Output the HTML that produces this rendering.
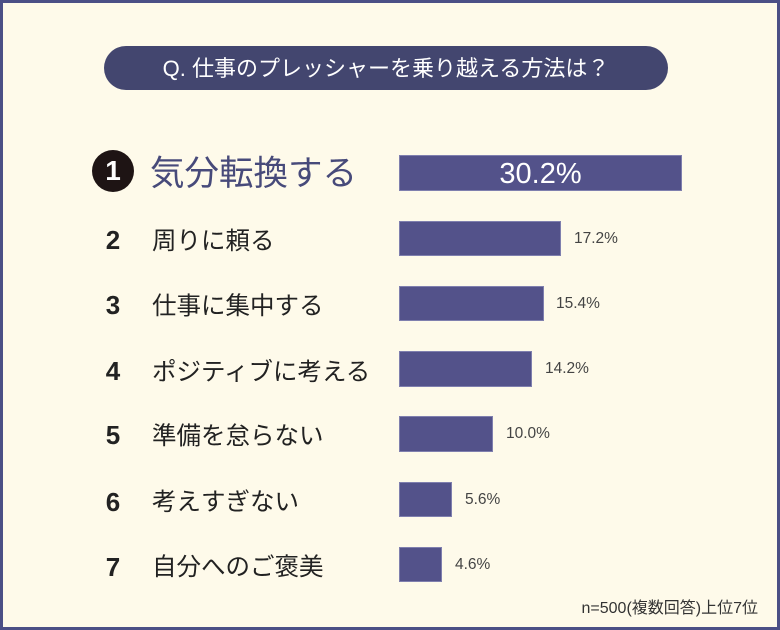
<!DOCTYPE html>
<html><head><meta charset="utf-8"><style>
body{margin:0;width:780px;height:630px;overflow:hidden;background:#fefaea;font-family:"Liberation Sans","Noto Sans CJK JP",sans-serif}
.frame{position:absolute;left:0;top:0;width:774px;height:624px;border:3px solid #4b4f86;background:#fefaea}
.pill{position:absolute;left:104px;top:46px;width:564px;height:44px;border-radius:22px;background:#43466f;color:#fff;font-size:22px;line-height:46px;text-align:center}
.bar{position:absolute;left:399px;background:#53528a;border:1px solid #7f7fae;box-sizing:border-box}
.num{position:absolute;left:100px;width:26px;text-align:center;font-size:26px;font-weight:bold;color:#222;line-height:36px;height:36px}
.lab{position:absolute;left:152px;font-size:24.5px;color:#222;line-height:36px;height:36px;white-space:nowrap}
.pct{position:absolute;font-size:15.5px;color:#444;line-height:36px}
</style></head><body>
<div class="frame"></div>
<div class="pill">Q. 仕事のプレッシャーを乗り越える方法は？</div>
<div style="position:absolute;left:92px;top:150px;width:42px;height:42px;border-radius:50%;background:#1e1414;color:#fff;font-size:28px;font-weight:bold;text-align:center;line-height:42px">1</div>
<div style="position:absolute;left:150px;top:153px;font-size:34.5px;color:#474a7a;line-height:42px;white-space:nowrap">気分転換する</div>
<div class="bar" style="top:155px;width:283px;height:36px"></div>
<div style="position:absolute;left:399px;width:283px;top:156px;line-height:36px;text-align:center;color:#fff;font-size:29px">30.2%</div>

<div class="bar" style="top:221px;width:162px;height:35px"></div><div class="pct" style="left:574px;top:221px">17.2%</div>
<div class="num" style="top:222px">2</div><div class="lab" style="top:224px">周りに頼る</div>
<div class="bar" style="top:286px;width:145px;height:35px"></div><div class="pct" style="left:556px;top:286px">15.4%</div>
<div class="num" style="top:287px">3</div><div class="lab" style="top:289px">仕事に集中する</div>
<div class="bar" style="top:351px;width:133px;height:36px"></div><div class="pct" style="left:545px;top:351px">14.2%</div>
<div class="num" style="top:353px">4</div><div class="lab" style="top:355px">ポジティブに考える</div>
<div class="bar" style="top:416px;width:94px;height:36px"></div><div class="pct" style="left:506px;top:416px">10.0%</div>
<div class="num" style="top:417px">5</div><div class="lab" style="top:419px">準備を怠らない</div>
<div class="bar" style="top:482px;width:53px;height:35px"></div><div class="pct" style="left:465px;top:482px">5.6%</div>
<div class="num" style="top:484px">6</div><div class="lab" style="top:485px">考えすぎない</div>
<div class="bar" style="top:547px;width:43px;height:35px"></div><div class="pct" style="left:455px;top:547px">4.6%</div>
<div class="num" style="top:549px">7</div><div class="lab" style="top:550px">自分へのご褒美</div>
<div style="position:absolute;right:22px;top:594px;font-size:16px;color:#333;white-space:nowrap">n=500(複数回答)上位7位</div>
</body></html>
